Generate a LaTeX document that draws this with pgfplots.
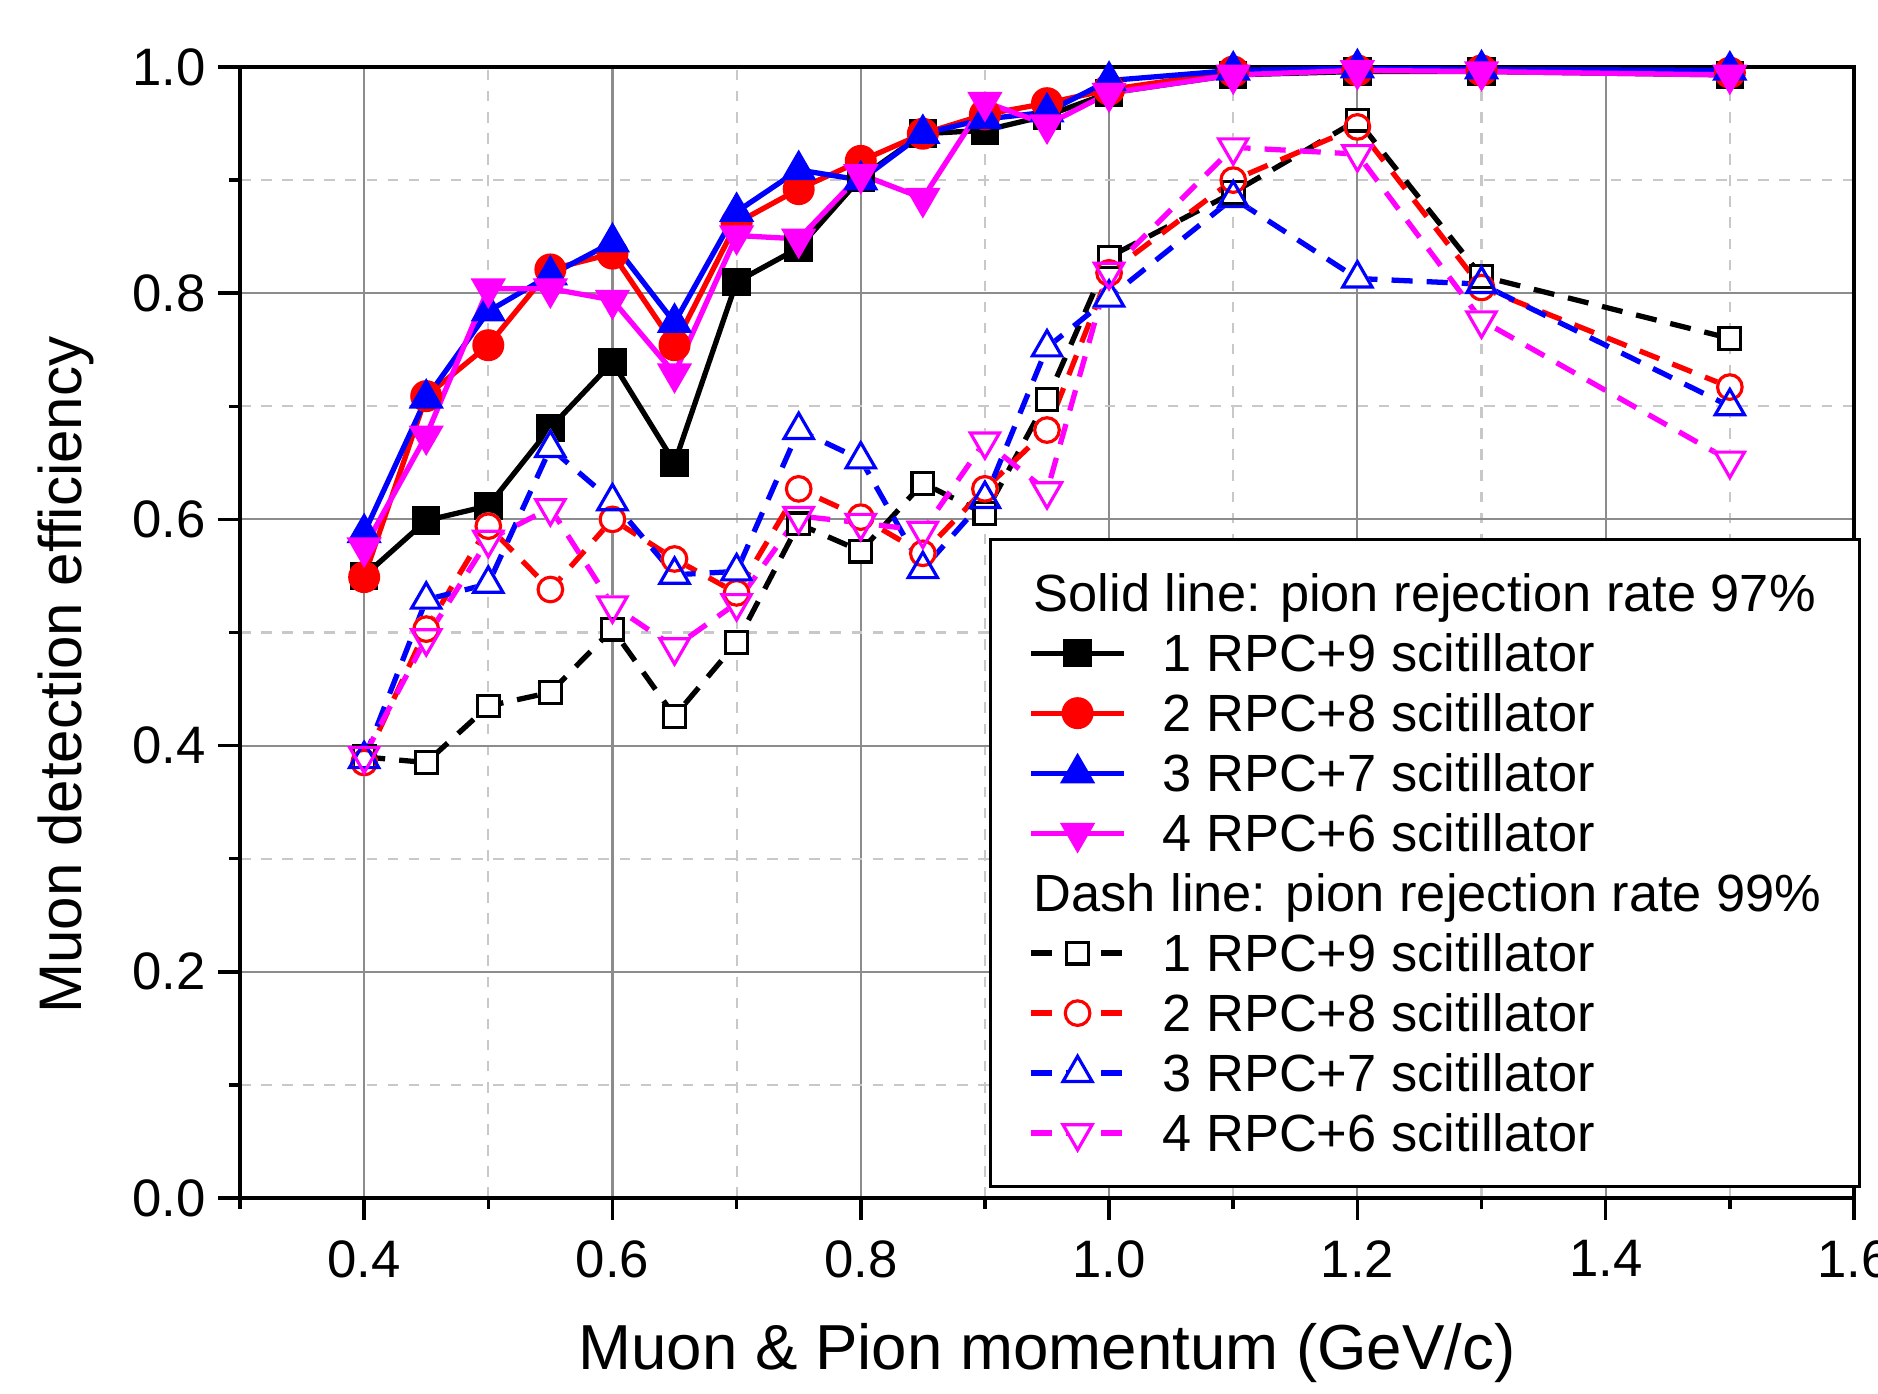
\documentclass[border=0pt]{standalone}
\usepackage{fontspec}
\setmainfont{Liberation Sans}
\usepackage{pgfplots}
\usepackage{pgfplotstable}
\pgfplotsset{compat=1.18}
\usetikzlibrary{calc}
\definecolor{mag}{RGB}{255,0,255}
\definecolor{rd}{RGB}{255,0,0}
\definecolor{bl}{RGB}{0,0,255}
\pgfplotstableread{
x    s1    s2    s3    s4    d1    d2    d3    d4
0.40 0.550 0.549 0.588 0.575 0.390 0.385 0.388 0.391
0.45 0.599 0.709 0.707 0.674 0.385 0.503 0.529 0.495
0.50 0.612 0.754 0.784 0.804 0.435 0.594 0.543 0.582
0.55 0.681 0.821 0.816 0.804 0.447 0.538 0.663 0.610
0.60 0.739 0.835 0.845 0.794 0.503 0.600 0.616 0.524
0.65 0.650 0.754 0.774 0.729 0.426 0.565 0.551 0.487
0.70 0.810 0.862 0.872 0.851 0.491 0.535 0.554 0.526
0.75 0.840 0.892 0.909 0.848 0.596 0.627 0.679 0.603
0.80 0.902 0.917 0.900 0.905 0.572 0.602 0.653 0.597
0.85 0.941 0.941 0.941 0.884 0.632 0.570 0.556 0.590
0.90 0.944 0.958 0.954 0.969 0.605 0.627 0.618 0.669
0.95 0.957 0.968 0.960 0.949 0.706 0.679 0.752 0.625
1.00 0.977 0.980 0.988 0.977 0.832 0.818 0.796 0.819
1.10 0.993 0.996 0.997 0.993 0.889 0.900 0.884 0.929
1.20 0.996 0.997 0.999 0.997 0.953 0.947 0.813 0.923
1.30 0.996 0.997 0.998 0.996 0.815 0.805 0.808 0.776
1.50 0.993 0.995 0.997 0.993 0.760 0.717 0.700 0.652
}\data
\begin{document}
\begin{tikzpicture}
\begin{axis}[
  name=ax,
  scale only axis, width=161.4mm, height=113.1mm,
  xmin=0.3, xmax=1.6, ymin=0, ymax=1,
  xtick={0.4,0.6,0.8,1.0,1.2,1.4,1.6},
  minor xtick={0.3,0.5,0.7,0.9,1.1,1.3,1.5},
  ytick={0,0.2,0.4,0.6,0.8,1.0},
  minor ytick={0.1,0.3,0.5,0.7,0.9},
  /pgf/number format/.cd, fixed, fixed zerofill, precision=1, assume math mode=true, /pgfplots/.cd,
  tick pos=left, tick align=outside,
  major tick length=2.2mm, minor tick length=1.1mm,
  tick style={black, line width=1pt},
  grid=both,
  major grid style={draw={rgb,255:red,140;green,140;blue,140}, line width=0.6pt},
  minor grid style={draw={rgb,255:red,200;green,200;blue,200}, line width=0.6pt, dash pattern=on 3pt off 3pt},
  axis line style={line width=1.3pt},
  ticklabel style={font=\fontsize{15}{18}\selectfont},
  xticklabel style={yshift=-0.8mm},
  xlabel={Muon \& Pion momentum (GeV/c)},
  ylabel={Muon detection efficiency},
  xlabel style={font=\fontsize{18.1}{21}\selectfont, at={(axis description cs:0.5,-0.1512)}, anchor=base},
  ylabel style={font=\fontsize{17.1}{21}\selectfont, at={(axis description cs:-0.1078,0.4624)}, anchor=center},
  legend image code/.code={\draw[mark repeat=2,mark phase=2] plot coordinates {(0mm,0mm) (4.65mm,0mm) (9.3mm,0mm)};},
  legend cell align=left,
  legend style={at={(axis description cs:0.4641,0.00884)}, anchor=south west,
    draw=black, line width=0.8pt, fill=white,
    font=\fontsize{14.9}{17}\selectfont,
    inner xsep=3.8mm, inner ysep=2.8mm,
    row sep=2.57pt, column sep=3.6mm,
    nodes={inner sep=0pt, text height=12.5pt, text depth=2pt}},
  solidline/.style={line width=1.5pt},
  dashline/.style={line width=1.5pt, dash pattern=on 6pt off 4pt},
  sq/.style={mark=square*, mark size=3.8pt, mark options={solid, line width=0.5pt}},
  ci/.style={mark=*, mark size=4.3pt, mark options={solid, line width=0.5pt}},
  tu/.style={mark=triangle*, mark size=5.3pt, mark options={solid, line width=0.5pt}},
  td/.style={mark=triangle*, mark size=5.3pt, mark options={solid, line width=0.5pt, rotate=180}},
  osq/.style={mark=square, mark size=3.1pt, mark options={solid, line width=0.9pt}},
  oci/.style={mark=o, mark size=3.5pt, mark options={solid, line width=0.9pt}},
  otu/.style={mark=triangle, mark size=4.8pt, mark options={solid, line width=0.9pt}},
  otd/.style={mark=triangle, mark size=4.8pt, mark options={solid, line width=0.9pt, rotate=180}},
  lsq/.style={mark=square*, mark size=3.1pt, mark options={solid, line width=0.9pt, fill=white}},
  lci/.style={mark=*, mark size=3.5pt, mark options={solid, line width=0.9pt, fill=white}},
  ltu/.style={mark=triangle*, mark size=4.8pt, mark options={solid, line width=0.9pt, fill=white}},
  ltd/.style={mark=triangle*, mark size=4.8pt, mark options={solid, line width=0.9pt, fill=white, rotate=180}},
  wsq/.style={mark=square*, mark size=3.1pt, mark options={solid, line width=0.9pt, draw=white, fill=white}},
  wci/.style={mark=*, mark size=3.5pt, mark options={solid, line width=0.9pt, draw=white, fill=white}},
  wtu/.style={mark=triangle*, mark size=4.8pt, mark options={solid, line width=0.9pt, draw=white, fill=white}},
  wtd/.style={mark=triangle*, mark size=4.8pt, mark options={solid, line width=0.9pt, draw=white, fill=white, rotate=180}},
]
% legend
\addlegendimage{empty legend}
\addlegendentry{\hspace{-12.9mm}Solid line: pion rejection rate 97\%}
\addlegendimage{solidline, black, sq}\addlegendentry{1 RPC+9 scitillator}
\addlegendimage{solidline, rd, ci}\addlegendentry{2 RPC+8 scitillator}
\addlegendimage{solidline, bl, tu}\addlegendentry{3 RPC+7 scitillator}
\addlegendimage{solidline, mag, td}\addlegendentry{4 RPC+6 scitillator}
\addlegendimage{empty legend}
\addlegendentry{\hspace{-12.9mm}Dash line: pion rejection rate 99\%}
\addlegendimage{dashline, black, lsq}\addlegendentry{1 RPC+9 scitillator}
\addlegendimage{dashline, rd, lci}\addlegendentry{2 RPC+8 scitillator}
\addlegendimage{dashline, bl, ltu}\addlegendentry{3 RPC+7 scitillator}
\addlegendimage{dashline, mag, ltd}\addlegendentry{4 RPC+6 scitillator}

% solid series
\addplot[forget plot, solidline, black, sq] table[x=x, y=s1] {\data};
\addplot[forget plot, solidline, rd, ci] table[x=x, y=s2] {\data};
\addplot[forget plot, solidline, bl, tu] table[x=x, y=s3] {\data};
\addplot[forget plot, solidline, mag, td] table[x=x, y=s4] {\data};

% dashed series: lines
\addplot[forget plot, dashline, black, mark=none] table[x=x, y=d1] {\data};
\addplot[forget plot, dashline, rd, mark=none] table[x=x, y=d2] {\data};
\addplot[forget plot, dashline, bl, mark=none] table[x=x, y=d3] {\data};
\addplot[forget plot, dashline, mag, mark=none] table[x=x, y=d4] {\data};
% white cut-outs under the open marks
\addplot[forget plot, only marks, wsq] table[x=x, y=d1] {\data};
\addplot[forget plot, only marks, wci] table[x=x, y=d2] {\data};
\addplot[forget plot, only marks, wtu] table[x=x, y=d3] {\data};
\addplot[forget plot, only marks, wtd] table[x=x, y=d4] {\data};
% open marks
\addplot[forget plot, only marks, black, osq] table[x=x, y=d1] {\data};
\addplot[forget plot, only marks, rd, oci] table[x=x, y=d2] {\data};
\addplot[forget plot, only marks, bl, otu] table[x=x, y=d3] {\data};
\addplot[forget plot, only marks, mag, otd] table[x=x, y=d4] {\data};
\end{axis}
\pgfresetboundingbox
\path[use as bounding box] ($(ax.south west)+(-24mm,-19.6mm)$) rectangle ($(ax.south west)+(163.8mm,119.8mm)$);
\end{tikzpicture}
\end{document}
